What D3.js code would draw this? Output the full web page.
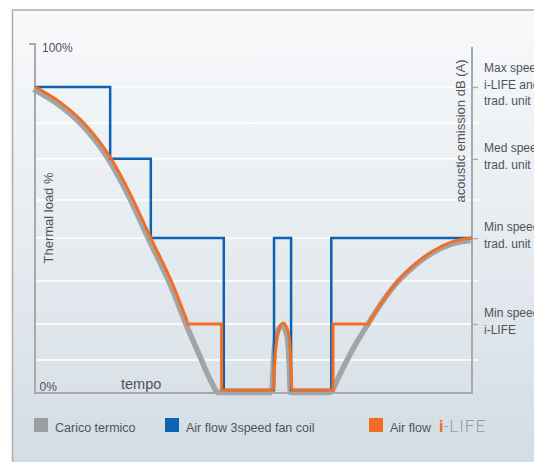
<!DOCTYPE html>
<html>
<head>
<meta charset="utf-8">
<script src="https://cdn.jsdelivr.net/npm/d3@7"></script>
<style>
  html, body { margin: 0; padding: 0; background: #fff; }
  svg { display: block; font-family: "Liberation Sans", Arial, sans-serif; }
</style>
</head>
<body>
<svg id="chart" width="534" height="462"></svg>
<script>
// thermal load (time %, load %)
const loadTime  = [0, 5.7, 11.4, 17.2, 21.7, 26.5, 31.4, 35.1, 38.2, 40.5, 42.3, 44, 54.6, 54.9, 55.6, 56.8, 58.0, 58.5, 58.8, 59.2, 68.2, 71.0, 73.7, 76.2, 79.4, 82.8, 87.0, 91.1, 95.4, 100];
const loadValue = [87.6, 83.2, 76.9, 67.3, 56.9, 43.9, 30.9, 19.1, 10.1, 3.5, 0, 0, 0, 8.7, 16.5, 19.4, 16.5, 8.7, 0, 0, 0, 7.5, 13.9, 19.1, 25.4, 31.2, 36.4, 40.2, 42.8, 43.9];

// 3 speed fan coil air flow (step after)
const fanTime  = [0, 17.2, 26.5, 43.2, 54.7, 58.6, 67.8, 100];
const fanLevel = [87.6, 66.8, 43.9, 0, 43.9, 0, 43.9, 43.9];

// i-LIFE air flow: follows the load inside these windows, holds min speed in between
const ilifeTrack = [[0, 35.1], [42.7, 68.2], [76.2, 100]];
const ilifeHoldTime  = [[35.1, 42.7, 42.7], [68.2, 68.2, 76.2]];
const ilifeHoldLevel = [[19.1, 19.1, 0], [0, 19.1, 19.1]];

const gridLevels = [87.6, 77.2, 66.8, 54.9, 43.9, 31.5, 19.1, 8.7];
const speedLevels = [87.6, 66.8, 43.9, 19.1];
const speedLabels = [
  ["Max speed", "i-LIFE and", "trad. unit"],
  ["Med speed", "trad. unit"],
  ["Min speed", "trad. unit"],
  ["Min speed", "i-LIFE"]
];
const legendNames  = ["Carico termico", "Air flow 3speed fan coil", "Air flow"];
const legendColors = ["#9c9fa2", "#0b63b1", "#f26e22"];

const textColor = "#4f5459";
const axisColor = "#a6aaae";

const svg = d3.select("#chart");
const defs = svg.append("defs");

const grad = defs.append("linearGradient")
  .attr("id", "bg").attr("x1", 0).attr("y1", 0).attr("x2", 0).attr("y2", 1);
grad.append("stop").attr("offset", "0%").attr("stop-color", "#f8f9fb");
grad.append("stop").attr("offset", "45%").attr("stop-color", "#e8edf1");
grad.append("stop").attr("offset", "100%").attr("stop-color", "#d2dbe3");

const x = d3.scaleLinear().domain([0, 100]).range([35, 472]);
const y = d3.scaleLinear().domain([0, 100]).range([390, 44]);

// panel
svg.append("rect")
  .attr("x", 12.5).attr("y", 10)
  .attr("width", 540).attr("height", 470)
  .attr("fill", "url(#bg)")
  .attr("stroke", "#a8adb2")
  .attr("stroke-width", 1.5);

// gridlines
svg.append("g").selectAll("line")
  .data(gridLevels)
  .enter().append("line")
  .attr("x1", x(0)).attr("x2", x(100) + 6)
  .attr("y1", d => y(d)).attr("y2", d => y(d))
  .attr("stroke", "#ffffff")
  .attr("stroke-width", 1.5);

// axes
const axes = svg.append("g")
  .attr("stroke", axisColor)
  .attr("stroke-width", 2)
  .attr("fill", "none");
axes.append("path")
  .attr("d", `M${x(0) - 6},${y(100)}H${x(0)}V${y(0) + 3}H${x(100)}V${y(100) + 3}`);

svg.append("g")
  .attr("transform", `translate(${x(100)},0)`)
  .call(d3.axisRight(y).tickValues(speedLevels).tickSize(6).tickFormat(""))
  .call(g => g.select(".domain").remove())
  .call(g => g.selectAll(".tick line").attr("stroke", axisColor).attr("stroke-width", 1.5));

// thermal load, split where it rises again from zero so the restart stays sharp
const loadLine = d3.line()
  .x(i => x(loadTime[i]))
  .y(i => y(loadValue[i]))
  .curve(d3.curveMonotoneX);

const pieces = [];
let cur = [0];
for (let i = 1; i < loadTime.length; i++) {
  cur.push(i);
  if (loadValue[i] === 0 && i < loadTime.length - 1 && loadValue[i + 1] > 0) {
    pieces.push(cur);
    cur = [i];
  }
}
pieces.push(cur);
const loadPath = pieces.map(p => loadLine(p)).join("");

svg.append("path")
  .attr("d", loadPath)
  .attr("transform", "translate(-1.5,2.5)")
  .attr("fill", "none")
  .attr("stroke", "#a2a5a8")
  .attr("stroke-width", 5.5)
  .attr("stroke-linejoin", "round");

// 3 speed fan coil
const fanLine = d3.line()
  .x(i => x(fanTime[i]))
  .y(i => y(fanLevel[i]))
  .curve(d3.curveStepAfter);

svg.append("path")
  .attr("d", fanLine(d3.range(fanTime.length)))
  .attr("fill", "none")
  .attr("stroke", legendColors[1])
  .attr("stroke-width", 2.5);

// i-LIFE
const clip = defs.append("clipPath").attr("id", "track");
clip.selectAll("rect")
  .data(ilifeTrack)
  .enter().append("rect")
  .attr("x", d => x(d[0]))
  .attr("width", d => x(d[1]) - x(d[0]))
  .attr("y", 0).attr("height", 462);

svg.append("path")
  .attr("d", loadPath)
  .attr("clip-path", "url(#track)")
  .attr("fill", "none")
  .attr("stroke", legendColors[2])
  .attr("stroke-width", 3)
  .attr("stroke-linejoin", "round");

svg.append("g").selectAll("path")
  .data(d3.range(ilifeHoldTime.length))
  .enter().append("path")
  .attr("d", k => d3.line()
    .x(i => x(ilifeHoldTime[k][i]))
    .y(i => y(ilifeHoldLevel[k][i]))(d3.range(ilifeHoldTime[k].length)))
  .attr("fill", "none")
  .attr("stroke", legendColors[2])
  .attr("stroke-width", 3)
  .attr("stroke-linecap", "square");

// texts
svg.append("text")
  .attr("x", 42).attr("y", 51.5)
  .attr("font-size", 12).attr("fill", textColor)
  .text("100%");

svg.append("text")
  .attr("x", 39.5).attr("y", 391)
  .attr("font-size", 12).attr("fill", textColor)
  .text("0%");

svg.append("text")
  .attr("x", 121).attr("y", 389)
  .attr("font-size", 14.5).attr("fill", textColor)
  .text("tempo");

svg.append("text")
  .attr("transform", "translate(53,218) rotate(-90)")
  .attr("text-anchor", "middle")
  .attr("font-size", 13).attr("fill", textColor)
  .text("Thermal load %");

svg.append("text")
  .attr("transform", "translate(465,131) rotate(-90)")
  .attr("text-anchor", "middle")
  .attr("font-size", 13).attr("fill", textColor)
  .text("acoustic emission dB (A)");

const labels = svg.append("g")
  .attr("font-size", 12)
  .attr("fill", textColor);
speedLevels.forEach((lv, k) => {
  const lines = speedLabels[k];
  const t = labels.append("text")
    .attr("x", 484)
    .attr("y", y(lv) - 3 - (lines.length - 1) * 8);
  lines.forEach((s, j) => {
    t.append("tspan").attr("x", 484).attr("dy", j === 0 ? "0.35em" : 16.5).text(s);
  });
});

// legend
const legendX = [34, 165, 369];
const legend = svg.append("g");
legendNames.forEach((name, k) => {
  legend.append("rect")
    .attr("x", legendX[k]).attr("y", 418)
    .attr("width", 14).attr("height", 14)
    .attr("fill", legendColors[k]);
  legend.append("text")
    .attr("x", legendX[k] + 21).attr("y", 432)
    .attr("font-size", 12.5).attr("fill", textColor)
    .text(name);
});

const logo = legend.append("text")
  .attr("x", 439).attr("y", 432)
  .attr("font-family", "Roboto, 'Open Sans', sans-serif")
  .attr("font-size", 17);
logo.append("tspan").attr("fill", legendColors[2]).attr("font-weight", "bold").text("i");
logo.append("tspan").attr("fill", "#8d9eac").attr("font-weight", 300).attr("letter-spacing", 1).text("-LIFE");
</script>
</body>
</html>
